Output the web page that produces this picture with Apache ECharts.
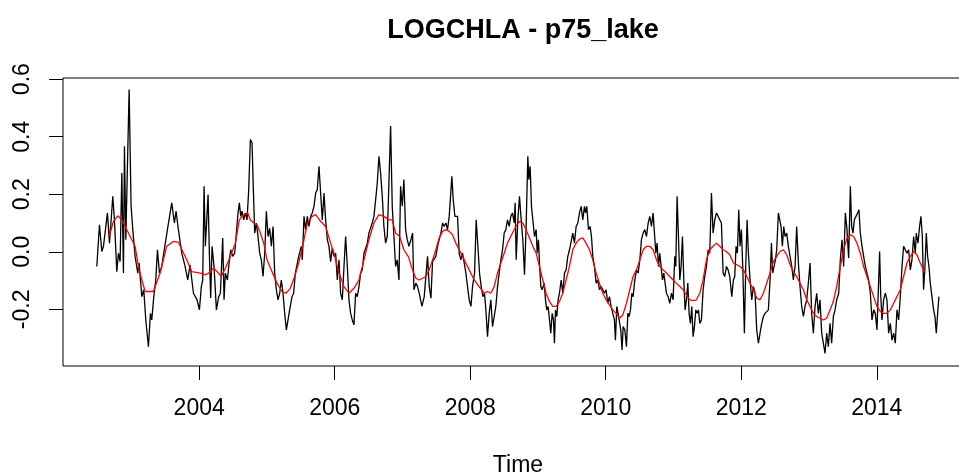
<!DOCTYPE html>
<html>
<head>
<meta charset="utf-8">
<script src="https://cdn.jsdelivr.net/npm/echarts@6/dist/echarts.min.js"></script>
<style>
  html, body { margin: 0; padding: 0; background: #fff; }
  #chart { width: 959px; height: 473px; }
</style>
</head>
<body>
<div id="chart"></div>
<script>
// ---- data ----
const chartTitle = "LOGCHLA - p75_lake";
const xAxisTitle = "Time";
const xTickYears = [2004, 2006, 2008, 2010, 2012, 2014];
const yTickValues = [-0.2, 0.0, 0.2, 0.4, 0.6];

// observed series (black), time in decimal years
const obsYear = [
2002.489,2002.528,2002.563,2002.587,2002.646,2002.676,2002.725,2002.749,2002.784,2002.808,
2002.833,2002.858,2002.882,2002.897,2002.917,2002.966,2002.995,2003.020,2003.054,2003.094,
2003.113,2003.153,2003.182,2003.212,2003.251,2003.280,2003.300,2003.330,2003.359,2003.384,
2003.413,2003.448,2003.477,2003.531,2003.595,2003.634,2003.659,2003.693,2003.743,2003.792,
2003.831,2003.865,2003.915,
2003.969,2004.003,2004.032,2004.052,2004.072,2004.091,2004.131,2004.150,2004.170,2004.190,
2004.219,2004.254,2004.288,2004.313,2004.347,2004.367,2004.386,2004.416,2004.436,2004.465,
2004.495,2004.524,2004.544,2004.573,2004.593,2004.613,2004.632,2004.657,2004.681,2004.706,
2004.731,2004.755,2004.780,2004.795,2004.819,2004.844,2004.868,2004.893,2004.917,2004.942,
2004.967,2004.991,2005.016,2005.040,2005.065,2005.090,2005.114,2005.139,2005.163,2005.188,
2005.212,2005.237,2005.262,2005.286,2005.311,2005.335,2005.370,2005.394,2005.419,2005.468,
2005.507,
2005.522,2005.547,2005.571,2005.596,2005.620,2005.645,2005.669,2005.694,2005.719,2005.743,
2005.768,2005.792,2005.817,2005.842,2005.866,2005.891,2005.915,2005.940,2005.964,2005.989,
2006.014,2006.038,2006.063,2006.087,2006.112,2006.137,2006.161,2006.186,2006.210,2006.235,
2006.259,2006.284,2006.309,2006.333,2006.358,2006.382,2006.407,2006.432,2006.456,2006.481,
2006.505,2006.530,2006.554,2006.579,2006.604,2006.628,2006.653,2006.677,2006.702,2006.726,
2006.751,2006.776,2006.800,2006.825,2006.849,2006.874,2006.899,2006.923,2006.948,2006.972,
2006.997,2007.021,2007.046,2007.071,2007.095,
2007.125,2007.149,2007.169,2007.198,2007.223,2007.247,2007.287,2007.321,2007.346,2007.370,
2007.395,2007.420,2007.444,2007.469,2007.493,2007.518,2007.542,2007.567,2007.592,2007.616,
2007.641,2007.665,2007.690,2007.715,2007.729,2007.749,2007.774,2007.813,2007.837,2007.862,
2007.887,2007.911,2007.936,2007.960,2007.985,2008.010,2008.034,2008.064,2008.088,2008.113,
2008.137,2008.162,2008.187,2008.211,2008.231,2008.255,2008.280,2008.304,2008.329,2008.354,
2008.378,2008.403,2008.427,2008.452,2008.477,2008.501,2008.526,2008.550,2008.575,2008.599,
2008.624,2008.649,2008.663,
2008.678,2008.703,2008.727,2008.752,2008.776,2008.801,2008.825,2008.850,2008.865,2008.884,
2008.904,2008.924,2008.948,2008.973,2008.988,2009.007,2009.022,2009.042,2009.061,2009.091,
2009.111,2009.130,2009.150,2009.170,2009.189,2009.209,2009.229,2009.243,2009.258,2009.278,
2009.297,2009.317,2009.342,2009.366,2009.391,2009.415,2009.440,2009.465,2009.489,2009.514,
2009.538,2009.563,2009.588,2009.612,2009.637,2009.661,2009.686,2009.701,2009.720,2009.745,
2009.769,2009.789,2009.809,2009.833,2009.858,2009.882,2009.907,2009.932,2009.956,2009.981,
2010.005,2010.030,2010.055,2010.079,2010.104,2010.128,2010.143,2010.163,2010.182,2010.202,
2010.222,2010.241,
2010.257,2010.282,2010.306,2010.326,2010.345,2010.365,2010.385,2010.404,2010.429,2010.454,
2010.478,2010.503,2010.527,2010.552,2010.577,2010.601,2010.626,2010.650,2010.675,2010.699,
2010.719,2010.739,2010.758,2010.778,2010.798,2010.817,2010.837,2010.857,2010.876,2010.896,
2010.921,2010.945,2010.970,2010.994,2011.019,2011.034,2011.053,2011.073,2011.093,2011.112,
2011.132,2011.152,2011.171,2011.191,2011.211,2011.230,2011.250,2011.270,2011.289,2011.309,
2011.329,2011.348,2011.368,2011.388,2011.412,2011.437,2011.461,2011.486,2011.511,2011.535,
2011.560,2011.584,2011.609,2011.634,2011.658,2011.683,2011.707,2011.732,2011.756,2011.781,
2011.806,2011.830,
2011.860,2011.884,2011.904,2011.923,2011.943,2011.963,2011.982,2012.002,2012.022,2012.046,
2012.066,2012.086,2012.105,2012.130,2012.155,2012.179,2012.204,2012.228,2012.253,2012.277,
2012.302,2012.327,2012.351,2012.376,2012.400,2012.425,2012.445,2012.464,2012.484,2012.504,
2012.523,2012.548,2012.568,2012.587,2012.607,2012.627,2012.646,2012.671,2012.695,2012.720,
2012.745,2012.769,2012.794,2012.818,2012.843,2012.867,2012.892,2012.917,2012.941,2012.966,
2012.990,2013.015,2013.039,2013.064,2013.089,2013.113,2013.138,2013.162,2013.187,2013.212,
2013.236,2013.261,2013.285,2013.310,2013.334,2013.359,2013.384,2013.408,
2013.438,2013.462,2013.487,2013.511,2013.536,2013.560,2013.585,2013.610,2013.629,2013.649,
2013.669,2013.693,2013.718,2013.737,2013.757,2013.782,2013.806,2013.831,2013.855,2013.880,
2013.905,2013.929,2013.954,2013.978,2014.003,2014.028,2014.042,2014.057,2014.077,2014.101,
2014.126,2014.150,2014.175,2014.200,2014.224,2014.249,2014.273,2014.298,2014.323,2014.347,
2014.372,2014.396,2014.421,2014.445,2014.470,2014.495,2014.519,2014.544,2014.568,2014.583,
2014.608,2014.632,2014.652,2014.672,2014.691,2014.711,2014.731,2014.750,2014.770,2014.790,
2014.814,2014.839,2014.859,2014.878,2014.898,2014.917
];
const obsValue = [
-0.051,0.094,0.001,0.019,0.135,0.030,0.193,0.111,-0.069,-0.005,
-0.034,0.274,-0.074,0.367,0.042,0.564,0.158,0.077,-0.016,-0.074,
-0.039,-0.156,-0.132,-0.237,-0.330,-0.214,-0.237,-0.156,-0.098,0.007,
-0.074,-0.051,-0.005,0.077,0.170,0.100,0.141,0.077,-0.005,-0.051,
-0.098,-0.045,-0.144,
-0.167,-0.202,-0.121,-0.098,0.228,0.019,0.199,-0.005,-0.161,0.019,
-0.051,-0.202,-0.156,-0.144,0.048,-0.167,-0.074,-0.098,-0.051,0.007,
-0.016,-0.005,0.053,0.135,0.170,0.123,0.141,0.111,0.135,0.111,
0.216,0.390,0.379,0.251,0.065,0.100,0.053,-0.005,-0.028,-0.086,
-0.005,0.141,0.053,0.082,0.019,0.088,-0.074,-0.132,-0.167,-0.144,
-0.098,-0.144,-0.214,-0.272,-0.237,-0.202,-0.156,-0.144,-0.074,-0.016,
0.019,
-0.028,0.123,0.077,0.123,0.088,0.123,0.135,0.158,0.204,0.216,
0.297,0.204,0.111,0.204,0.111,0.042,0.019,-0.034,0.013,-0.016,
-0.005,-0.098,-0.028,-0.144,-0.167,-0.051,0.053,-0.051,-0.167,-0.214,
-0.237,-0.254,-0.144,-0.156,-0.121,-0.074,-0.063,-0.005,-0.005,0.030,
0.065,0.065,0.100,0.123,0.181,0.239,0.332,0.274,0.193,0.088,
0.030,0.053,0.053,0.437,0.158,0.053,-0.051,-0.028,-0.098,0.228,
0.158,0.251,0.077,0.042,0.019,
0.042,0.065,-0.132,-0.109,-0.121,-0.144,-0.190,-0.156,-0.161,-0.016,
-0.121,-0.161,-0.034,-0.028,-0.016,0.019,0.042,0.065,0.100,0.088,
0.100,0.077,0.123,0.123,0.262,0.181,0.123,0.123,-0.005,-0.028,
-0.005,-0.039,-0.074,-0.121,-0.167,-0.190,-0.121,-0.074,0.111,0.019,
-0.074,-0.121,-0.156,-0.144,-0.202,-0.295,-0.214,-0.167,-0.260,-0.225,
-0.190,-0.121,-0.074,-0.028,0.007,0.065,0.077,0.111,0.088,0.123,
0.135,0.100,0.170,
-0.028,0.111,0.193,0.111,0.042,-0.080,0.088,0.332,0.251,0.297,
0.158,0.111,0.053,0.077,-0.005,0.042,-0.039,-0.121,-0.132,-0.109,
-0.167,-0.202,-0.190,-0.237,-0.283,-0.214,-0.237,-0.318,-0.202,-0.225,
-0.167,-0.144,-0.098,-0.144,-0.074,-0.063,-0.016,0.007,0.007,0.065,
0.030,0.088,0.100,0.135,0.158,0.111,0.158,0.135,0.158,0.077,
0.088,0.053,-0.016,-0.051,-0.109,-0.098,-0.132,-0.121,-0.132,-0.144,
-0.132,-0.179,-0.156,-0.190,-0.214,-0.237,-0.307,-0.190,-0.214,-0.214,
-0.272,-0.341,
-0.260,-0.272,-0.330,-0.214,-0.225,-0.202,-0.144,-0.156,-0.098,-0.063,
-0.074,-0.028,0.042,0.065,0.077,0.053,0.100,0.123,0.088,0.135,
0.065,-0.005,0.030,-0.051,-0.005,-0.051,-0.098,-0.074,-0.109,-0.144,
-0.156,-0.179,-0.144,-0.167,-0.016,-0.051,0.193,0.053,-0.098,-0.051,
0.053,-0.098,-0.202,-0.167,-0.109,-0.214,-0.249,-0.190,-0.295,-0.260,
-0.202,-0.214,-0.202,-0.249,-0.237,-0.132,-0.086,-0.051,0.007,-0.005,
0.204,0.065,0.111,0.135,0.135,0.111,0.100,-0.074,-0.086,-0.051,
-0.063,-0.086,
-0.156,-0.098,-0.086,0.019,-0.005,0.146,0.019,0.077,-0.051,-0.283,
-0.051,0.111,-0.005,-0.098,-0.167,-0.121,-0.144,-0.272,-0.318,-0.283,
-0.249,-0.225,-0.214,-0.214,-0.202,-0.098,0.030,-0.074,-0.051,-0.028,
0.007,0.135,0.111,0.088,0.019,0.088,0.053,0.065,0.019,-0.016,
-0.051,-0.098,-0.051,0.088,-0.039,-0.121,-0.190,-0.225,-0.190,-0.167,
-0.109,-0.039,-0.214,-0.283,-0.190,-0.144,-0.214,-0.167,-0.283,-0.318,
-0.353,-0.283,-0.330,-0.249,-0.318,-0.225,-0.202,-0.167,
-0.144,-0.028,0.042,-0.051,0.135,0.077,-0.022,0.228,0.088,0.065,
0.111,0.123,0.135,0.146,0.065,0.019,-0.016,-0.051,-0.074,-0.098,
-0.144,-0.237,-0.202,-0.214,-0.272,-0.098,0.001,-0.144,-0.237,-0.167,
-0.144,-0.167,-0.283,-0.249,-0.307,-0.283,-0.318,-0.202,-0.237,-0.156,
-0.051,0.019,0.019,-0.005,0.007,-0.063,-0.028,0.053,-0.005,0.065,
0.030,0.088,0.123,0.053,-0.132,-0.051,0.065,-0.016,-0.051,-0.109,
-0.156,-0.202,-0.225,-0.283,-0.214,-0.156
];

// smoothed series (red)
const smoothYear = [
2002.671,2002.735,2002.799,2002.858,2002.956,2003.054,2003.113,2003.202,2003.325,2003.423,
2003.521,2003.620,2003.693,2003.816,2003.890,
2004.018,2004.091,2004.141,2004.214,2004.264,2004.327,2004.386,2004.460,2004.534,2004.593,
2004.657,2004.716,2004.755,2004.804,2004.854,2004.903,2004.952,2005.001,2005.075,2005.149,
2005.222,2005.281,2005.345,2005.409,2005.468,2005.527,
2005.596,2005.669,2005.719,2005.792,2005.866,2005.940,2005.989,2006.063,2006.137,2006.210,
2006.284,2006.358,2006.432,2006.505,2006.579,2006.653,2006.726,2006.800,2006.849,2006.899,
2006.958,2007.021,2007.085,
2007.149,2007.198,2007.247,2007.297,2007.346,2007.395,2007.444,2007.493,2007.542,2007.592,
2007.641,2007.690,2007.739,2007.788,2007.837,2007.887,2007.936,2007.985,2008.059,2008.132,
2008.206,2008.255,2008.304,2008.354,2008.403,2008.452,2008.501,2008.550,2008.624,2008.673,
2008.727,2008.776,2008.825,2008.875,2008.924,2008.973,2009.022,2009.071,2009.120,2009.170,
2009.219,2009.268,2009.317,2009.366,2009.415,2009.465,2009.514,2009.563,2009.612,2009.661,
2009.710,2009.760,2009.809,2009.858,2009.907,2009.956,2010.005,2010.055,2010.104,2010.153,
2010.202,2010.251,
2010.306,2010.355,2010.404,2010.454,2010.503,2010.552,2010.601,2010.650,2010.699,2010.749,
2010.798,2010.847,2010.896,2010.945,2010.994,2011.044,2011.093,2011.142,2011.191,2011.240,
2011.289,2011.339,2011.388,2011.437,2011.486,2011.535,2011.584,2011.634,2011.683,2011.732,
2011.781,2011.830,
2011.884,2011.933,2011.982,2012.032,2012.081,2012.130,2012.179,2012.228,2012.277,2012.327,
2012.376,2012.425,2012.474,2012.523,2012.572,2012.622,2012.671,2012.720,2012.769,2012.818,
2012.867,2012.917,2012.966,2013.015,2013.064,2013.113,2013.162,2013.212,2013.261,2013.310,
2013.359,2013.408,
2013.462,2013.511,2013.560,2013.610,2013.659,2013.708,2013.757,2013.806,2013.855,2013.905,
2013.954,2014.003,2014.052,2014.101,2014.150,2014.200,2014.249,2014.298,2014.347,2014.396,
2014.445,2014.495,2014.544,2014.593,2014.642,2014.691,2014.716
];
const smoothValue = [
0.053,0.106,0.125,0.111,0.065,0.019,-0.063,-0.138,-0.138,-0.074,
0.019,0.036,0.033,-0.028,-0.069,
-0.074,-0.080,-0.074,-0.057,-0.069,-0.086,-0.057,-0.016,0.030,0.111,
0.129,0.135,0.111,0.100,0.094,0.065,0.030,-0.028,-0.069,-0.109,
-0.138,-0.144,-0.127,-0.086,-0.039,0.019,
0.100,0.123,0.129,0.106,0.088,0.030,-0.005,-0.074,-0.121,-0.144,
-0.127,-0.098,-0.028,0.042,0.100,0.129,0.123,0.111,0.111,0.065,
0.053,0.007,-0.016,
-0.063,-0.092,-0.098,-0.092,-0.086,-0.063,-0.028,0.007,0.048,0.071,
0.077,0.071,0.059,0.030,0.007,-0.016,-0.039,-0.063,-0.098,-0.121,
-0.144,-0.138,-0.144,-0.121,-0.074,-0.039,-0.005,0.030,0.065,0.088,
0.106,0.100,0.077,0.048,0.019,-0.005,-0.051,-0.098,-0.144,-0.173,
-0.190,-0.190,-0.173,-0.144,-0.098,-0.051,0.007,0.030,0.044,0.048,
0.030,0.007,-0.028,-0.074,-0.109,-0.144,-0.167,-0.185,-0.202,-0.214,
-0.231,-0.220,
-0.179,-0.132,-0.086,-0.063,-0.028,0.007,0.019,0.019,0.007,-0.028,
-0.051,-0.063,-0.074,-0.086,-0.098,-0.109,-0.121,-0.132,-0.150,-0.167,
-0.170,-0.167,-0.144,-0.098,-0.028,0.007,0.019,0.030,0.019,0.007,
0.001,-0.010,
-0.039,-0.045,-0.051,-0.063,-0.086,-0.109,-0.132,-0.161,-0.167,-0.144,
-0.109,-0.074,-0.034,-0.016,0.001,0.007,-0.010,-0.045,-0.069,-0.086,
-0.109,-0.132,-0.167,-0.190,-0.214,-0.225,-0.231,-0.237,-0.231,-0.202,
-0.173,-0.121,
-0.051,0.007,0.048,0.059,0.053,0.030,-0.005,-0.051,-0.086,-0.121,
-0.156,-0.190,-0.208,-0.214,-0.214,-0.202,-0.179,-0.156,-0.132,-0.086,
-0.039,-0.016,0.001,-0.010,-0.039,-0.063,-0.072
];

// ---- build the chart ----
const zip = (xs, ys) => xs.map((x, i) => [x, ys[i]]);
const FONT = "'Liberation Sans', Arial, Helvetica, sans-serif";

const chart = echarts.init(document.getElementById('chart'), null, { renderer: 'canvas' });
chart.setOption({
  animation: false,
  backgroundColor: '#ffffff',
  title: {
    text: chartTitle,
    left: 518,
    top: 12,
    textAlign: 'center',
    textStyle: { fontFamily: FONT, fontSize: 27, fontWeight: 'bold', color: '#000' }
  },
  grid: {
    left: 63, top: 78, right: -14, bottom: 107,
    outerBoundsMode: 'none',
    containLabel: false,
    show: true, borderColor: '#000', borderWidth: 1, backgroundColor: 'transparent'
  },
  xAxis: {
    type: 'value',
    position: 'bottom',
    min: 2001.99, max: 2015.42,
    name: xAxisTitle,
    nameLocation: 'middle',
    nameGap: 88,
    nameTextStyle: { fontFamily: FONT, fontSize: 23, color: '#000' },
    axisLine: { show: false, onZero: false },
    splitLine: { show: false },
    axisTick: { show: true, inside: false, length: 14, customValues: xTickYears,
                lineStyle: { color: '#000', width: 1 } },
    axisLabel: { show: true, customValues: xTickYears, margin: 31,
                 fontFamily: FONT, fontSize: 23, color: '#000',
                 formatter: v => String(Math.round(v)) }
  },
  yAxis: {
    type: 'value',
    position: 'left',
    min: -0.397, max: 0.604,
    axisLine: { show: false, onZero: false },
    splitLine: { show: false },
    axisTick: { show: true, inside: false, length: 14, customValues: yTickValues,
                lineStyle: { color: '#000', width: 1 } },
    axisLabel: { show: true, customValues: yTickValues, rotate: 90, margin: 29,
                 fontFamily: FONT, fontSize: 23, color: '#000',
                 formatter: v => v.toFixed(1) }
  },
  series: [
    {
      type: 'line', name: 'observed',
      data: zip(obsYear, obsValue),
      showSymbol: false, smooth: false,
      lineStyle: { color: '#000000', width: 1.3 },
      z: 2
    },
    {
      type: 'line', name: 'smooth',
      data: zip(smoothYear, smoothValue),
      showSymbol: false, smooth: false,
      lineStyle: { color: '#ff0000', width: 1.3 },
      z: 3
    }
  ]
});
</script>
</body>
</html>
